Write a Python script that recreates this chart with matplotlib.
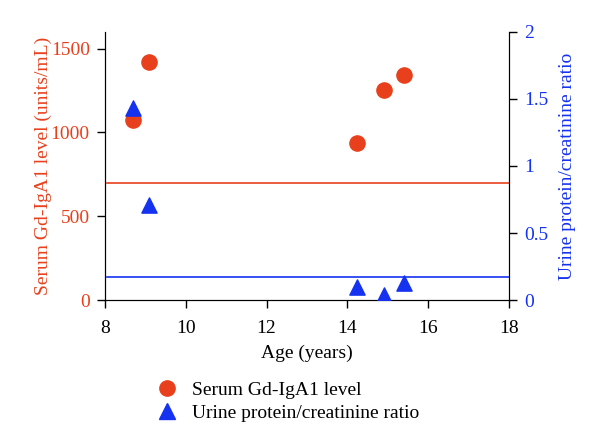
import matplotlib.pyplot as plt
from matplotlib.lines import Line2D

plt.rcParams.update({
    "font.family": ["Liberation Serif", "DejaVu Serif"],
    "font.size": 14,
})

RED = "#e8401c"
BLUE = "#1432f0"

# ── Data ────────────────────────────────────────────
age = [8.7, 9.1, 14.25, 14.9, 15.4]
gd_iga1 = [1075, 1420, 935, 1255, 1340]
upcr = [1.43, 0.71, 0.10, 0.04, 0.13]
gd_cutoff = 700
upcr_cutoff = 0.17

fig = plt.figure(figsize=(6.0, 4.48), dpi=100)
ax = fig.add_axes([0.175, 0.330, 0.673, 0.599])
ax2 = ax.twinx()

ax.scatter(age, gd_iga1, s=120, color=RED, marker="o", zorder=3)
ax.plot([8.05, 18], [gd_cutoff, gd_cutoff], color=RED, lw=1.2)
ax2.scatter(age, upcr, s=120, color=BLUE, marker="^", zorder=3)
ax2.plot([8.05, 18], [upcr_cutoff, upcr_cutoff], color=BLUE, lw=1.2)

ax.set_xlim(8, 18)
ax.set_ylim(0, 1600)
ax2.set_ylim(0, 2)
ax.set_xticks([8, 10, 12, 14, 16, 18])
ax.set_yticks([0, 500, 1000, 1500])
ax2.set_yticks([0, 0.5, 1, 1.5, 2])
ax2.set_yticklabels(["0", "0.5", "1", "1.5", "2"])

for a in (ax, ax2):
    a.spines["top"].set_visible(False)
    a.tick_params(direction="out", length=6, width=1.0)
ax.tick_params(axis="y", colors=RED, labelsize=14, pad=5)
ax.tick_params(axis="y", color="black")
ax.tick_params(axis="x", labelsize=14, pad=8)
ax2.tick_params(axis="y", colors=BLUE, labelsize=14, pad=5)
ax2.tick_params(axis="y", color="black")

ax.set_xlabel("Age (years)", fontsize=14, labelpad=6)
ax.set_ylabel("Serum Gd-IgA1 level (units/mL)", color=RED, fontsize=14, labelpad=-1)
ax2.set_ylabel("Urine protein/creatinine ratio", color=BLUE, fontsize=14, labelpad=8)

handles = [
    Line2D([], [], marker="o", color=RED, ls="none", markersize=11),
    Line2D([], [], marker="^", color=BLUE, ls="none", markersize=11),
]
fig.legend(handles, ["Serum Gd-IgA1 level", "Urine protein/creatinine ratio"],
           loc="upper left", bbox_to_anchor=(0.23, 0.17), frameon=False,
           fontsize=14, handletextpad=0.3, labelspacing=0.25, borderpad=0)

fig.savefig("out.png", dpi=100)
